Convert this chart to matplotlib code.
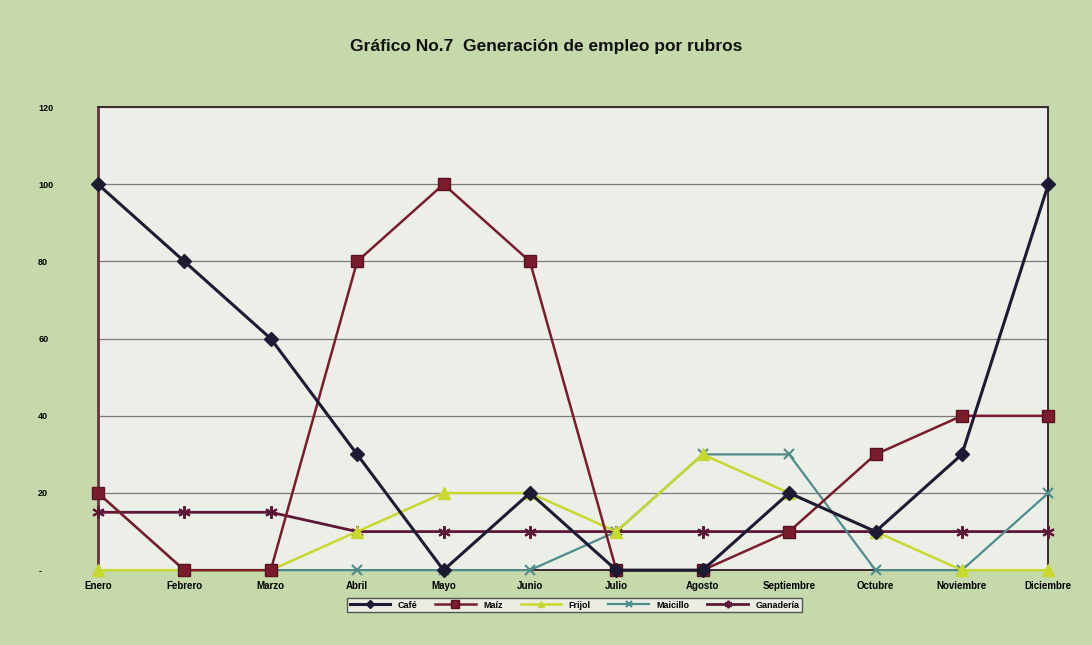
import numpy as np
import matplotlib
matplotlib.use("Agg")
import matplotlib.pyplot as plt

# Data
meses = ["Enero", "Febrero", "Marzo", "Abril", "Mayo", "Junio", "Julio",
         "Agosto", "Septiembre", "Octubre", "Noviembre", "Diciembre"]
cafe = [100, 80, 60, 30, 0, 20, 0, 0, 20, 10, 30, 100]
maiz = [20, 0, 0, 80, 100, 80, 0, 0, 10, 30, 40, 40]
frijol = [0, 0, 0, 10, 20, 20, 10, 30, 20, 10, 0, 0]
maicillo = [20, 0, 0, 0, 0, 0, 10, 30, 30, 0, 0, 20]
ganaderia = [15, 15, 15, 10, 10, 10, 10, 10, 10, 10, 10, 10]

yticks = [0, 20, 40, 60, 80, 100, 120]
ytick_labels = ["-", "20", "40", "60", "80", "100", "120"]

plt.rcParams['font.family'] = ['Liberation Sans', 'DejaVu Sans']

fig = plt.figure(figsize=(10.92, 6.45), dpi=100)
fig.patch.set_facecolor('#c6d9ab')
ax = fig.add_axes([0.0897, 0.116, 0.8703, 0.718])
ax.set_facecolor('#eceee8')

x = np.arange(len(meses))
star = (6, 2, 0)

# Series
ax.plot(x, ganaderia, color='#5c1836', lw=2, marker=star, ms=9, mew=1.5,
        label='Ganadería', zorder=3, clip_on=False)
ax.plot(x, maicillo, color='#4f8c8c', lw=1.6, marker='x', ms=7, mew=1.5,
        label='Maicillo', zorder=4, clip_on=False)
ax.plot(x, frijol, color='#c9d82e', lw=1.8, marker='^', ms=8,
        label='Frijol', zorder=5, clip_on=False)
ax.plot(x, maiz, color='#7a1c2c', lw=1.8, marker='s', ms=9,
        mec='#5a1020', label='Maíz', zorder=6, clip_on=False)
ax.plot(x, cafe, color='#1d1b33', lw=2.2, marker='D', ms=7,
        label='Café', zorder=7, clip_on=False)

ax.set_xlim(0, 11)
ax.set_ylim(0, 120)
ax.set_yticks(yticks)
ax.set_yticklabels(ytick_labels, fontsize=6.5, fontweight='bold')
ax.set_xticks(x)
ax.set_xticklabels(meses, fontsize=7, fontweight='bold')
ax.tick_params(length=0, pad=8)
ax.tick_params(axis='y', pad=43)
for lab in ax.get_yticklabels():
    lab.set_horizontalalignment('left')

ax.grid(axis='y', color='#7a7a7a', lw=0.9)
for s in ax.spines.values():
    s.set_color('#3a2a30')
    s.set_linewidth(1.4)
ax.spines['left'].set_color('#6a3040')
ax.spines['left'].set_linewidth(2)

fig.text(0.50, 0.928, "Gráfico No.7  Generación de empleo por rubros",
         ha='center', va='center', fontsize=12.5, fontweight='bold',
         color='#111111')

handles, labels = ax.get_legend_handles_labels()
order = [4, 3, 2, 1, 0]
leg = fig.legend([handles[i] for i in order], [labels[i] for i in order],
                 loc='center', bbox_to_anchor=(0.526, 0.062), ncol=5,
                 fontsize=6.5, frameon=True, fancybox=False, handlelength=4.5,
                 columnspacing=2.0, borderpad=0.3, markerscale=0.6)
leg.get_frame().set_edgecolor('#333333')
leg.get_frame().set_facecolor('#f4f4f0')
for t in leg.get_texts():
    t.set_fontweight('bold')

fig.savefig("out.png", dpi=100, facecolor=fig.get_facecolor())
